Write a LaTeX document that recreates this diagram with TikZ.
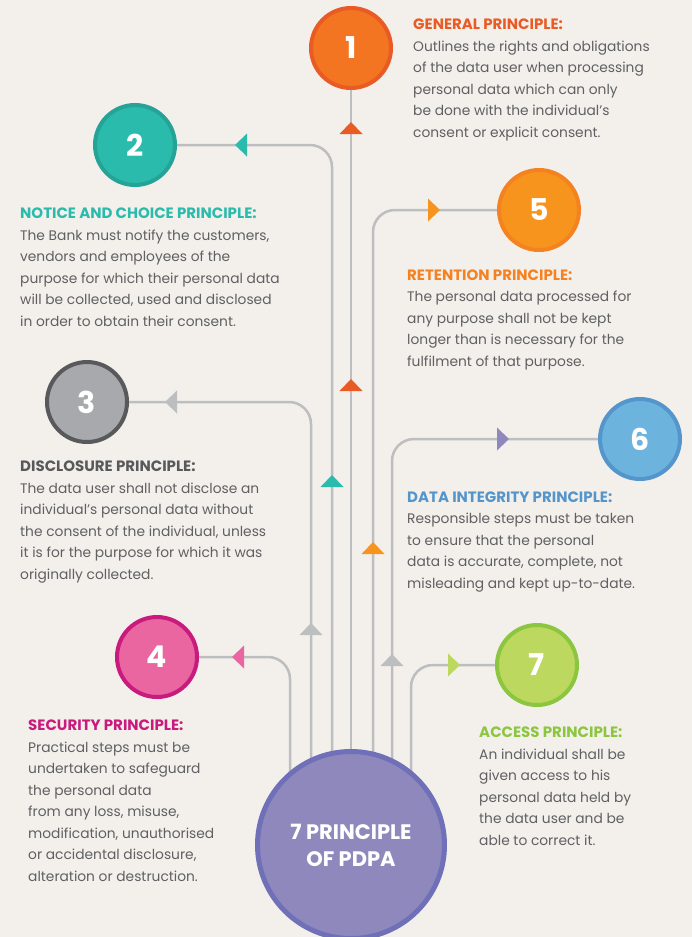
\documentclass[tikz,border=0pt]{standalone}
\usepackage{fontspec}
\setmainfont{Poppins}
\usetikzlibrary{backgrounds}

\definecolor{paper}{HTML}{F3F0EC}
\definecolor{linegray}{HTML}{BCBEC0}
\definecolor{bodygray}{HTML}{5F6062}
\definecolor{oneFill}{HTML}{F47521}
\definecolor{oneEdge}{HTML}{EA5A24}
\definecolor{twoFill}{HTML}{2BBBAD}
\definecolor{twoEdge}{HTML}{26A397}
\definecolor{threeFill}{HTML}{A7A9AC}
\definecolor{threeEdge}{HTML}{58595B}
\definecolor{fourFill}{HTML}{E966A0}
\definecolor{fourEdge}{HTML}{C91A7D}
\definecolor{fiveFill}{HTML}{F7941D}
\definecolor{fiveEdge}{HTML}{F58220}
\definecolor{sixFill}{HTML}{6CB3DE}
\definecolor{sixEdge}{HTML}{5495CC}
\definecolor{sevenFill}{HTML}{BCD85F}
\definecolor{sevenEdge}{HTML}{8CC63F}
\definecolor{hubFill}{HTML}{8F88BD}
\definecolor{hubEdge}{HTML}{7070B8}

\newcommand{\head}[2]{{\fontsize{15}{21.5}\selectfont\bfseries\color{#1}#2}}

\begin{document}
\begin{tikzpicture}[
    x=1pt, y=-1pt,
    wire/.style={draw=linegray, line width=2.5pt, rounded corners=22pt},
    bubble/.style={circle, minimum size=80pt, line width=4pt, text=white, font=\fontsize{30}{30}\selectfont\bfseries},
    hubnode/.style={circle, minimum size=187pt, line width=5pt, fill=hubFill, draw=hubEdge, text=white, align=center, font=\fontsize{21}{27}\selectfont\bfseries},
    blurb/.style={anchor=base west, align=left, inner sep=0pt, text=bodygray, font=\fontsize{13.8}{21.5}\selectfont},
]
\useasboundingbox (0,0) rectangle (692,937);
\clip (0,0) rectangle (692,937);

% =============================================================================
% Principle circles and the hub
% =============================================================================
\node[bubble, fill=oneFill, draw=oneEdge] (p1) at (351,48) {1};
\node[bubble, fill=twoFill, draw=twoEdge] (p2) at (135,145) {2};
\node[bubble, fill=threeFill, draw=threeEdge] (p3) at (87,402) {3};
\node[bubble, fill=fourFill, draw=fourEdge] (p4) at (157,657) {4};
\node[bubble, fill=fiveFill, draw=fiveEdge] (p5) at (539,210) {5};
\node[bubble, fill=sixFill, draw=sixEdge] (p6) at (640,439) {6};
\node[bubble, fill=sevenFill, draw=sevenEdge] (p7) at (537,665) {7};

\node[hubnode] (hub) at (351,845) {7 PRINCIPLE\\OF PDPA};

% =============================================================================
% Wires from the hub (kept behind the circles)
% =============================================================================
\begin{scope}[on background layer]
    \fill[paper] (0,0) rectangle (692,937);

    \draw[wire] (p1) -- (hub.center);
    \draw[wire] (p2.east) -| ([xshift=-19pt]hub.center);
    \draw[wire] (p3.east) -| ([xshift=-40pt]hub.center);
    \draw[wire] (p4.east) -| ([xshift=-61pt]hub.center);
    \draw[wire] (p5.west) -| ([xshift=22pt]hub.center);
    \draw[wire] (p6.west) -| ([xshift=41pt]hub.center);
    \draw[wire] (p7.west) -| ([xshift=60pt]hub.center);
\end{scope}

% Arrow marks on the vertical runs
\fill[oneEdge] (351,122) -- (362.5,134) -- (339.5,134) -- cycle;
\fill[oneEdge] (351,379) -- (362.5,391) -- (339.5,391) -- cycle;
\fill[twoFill] (332,475) -- (343.5,487) -- (320.5,487) -- cycle;
\fill[fiveFill] (373,542) -- (384.5,554) -- (361.5,554) -- cycle;
\fill[linegray] (311,623) -- (322.5,635) -- (299.5,635) -- cycle;
\fill[linegray] (392,654) -- (403.5,666) -- (380.5,666) -- cycle;

% Arrow marks on the horizontal runs
\fill[twoFill] (235,145) -- (247,133.5) -- (247,156.5) -- cycle;
\fill[linegray] (165,402) -- (177,390.5) -- (177,413.5) -- cycle;
\fill[fourFill] (232,657) -- (244,645.5) -- (244,668.5) -- cycle;
\fill[fiveFill] (440,210) -- (428,198.5) -- (428,221.5) -- cycle;
\fill[hubFill] (509,439) -- (497,427.5) -- (497,450.5) -- cycle;
\fill[sevenFill] (460,665) -- (448,653.5) -- (448,676.5) -- cycle;

% =============================================================================
% Descriptions (placed by the baseline of their last line)
% =============================================================================
\node[blurb] (t1) at (413,137) {\head{oneEdge}{GENERAL PRINCIPLE:}\\
    Outlines the rights and obligations\\
    of the data user when processing\\
    personal data which can only\\
    be done with the individual’s\\
    consent or explicit consent.};

\node[blurb] (t2) at (20,326) {\head{twoFill}{NOTICE AND CHOICE PRINCIPLE:}\\
    The Bank must notify the customers,\\
    vendors and employees of the\\
    purpose for which their personal data\\
    will be collected, used and disclosed\\
    in order to obtain their consent.};

\node[blurb] (t3) at (20,579) {\head{threeEdge}{DISCLOSURE PRINCIPLE:}\\
    The data user shall not disclose an\\
    individual's personal data without\\
    the consent of the individual, unless\\
    it is for the purpose for which it was\\
    originally collected.};

\node[blurb] (t4) at (28,881) {\head{fourEdge}{SECURITY PRINCIPLE:}\\
    Practical steps must be\\
    undertaken to safeguard\\
    the personal data\\
    from any loss, misuse,\\
    modification, unauthorised\\
    or accidental disclosure,\\
    alteration or destruction.};

\node[blurb] (t5) at (407,366) {\head{fiveEdge}{RETENTION PRINCIPLE:}\\
    The personal data processed for\\
    any purpose shall not be kept\\
    longer than is necessary for the\\
    fulfilment of that purpose.};

\node[blurb] (t6) at (407,588) {\head{sixEdge}{DATA INTEGRITY PRINCIPLE:}\\
    Responsible steps must be taken\\
    to ensure that the personal\\
    data is accurate, complete, not\\
    misleading and kept up-to-date.};

\node[blurb] (t7) at (479,845) {\head{sevenEdge}{ACCESS PRINCIPLE:}\\
    An individual shall be\\
    given access to his\\
    personal data held by\\
    the data user and be\\
    able to correct it.};

\end{tikzpicture}
\end{document}
